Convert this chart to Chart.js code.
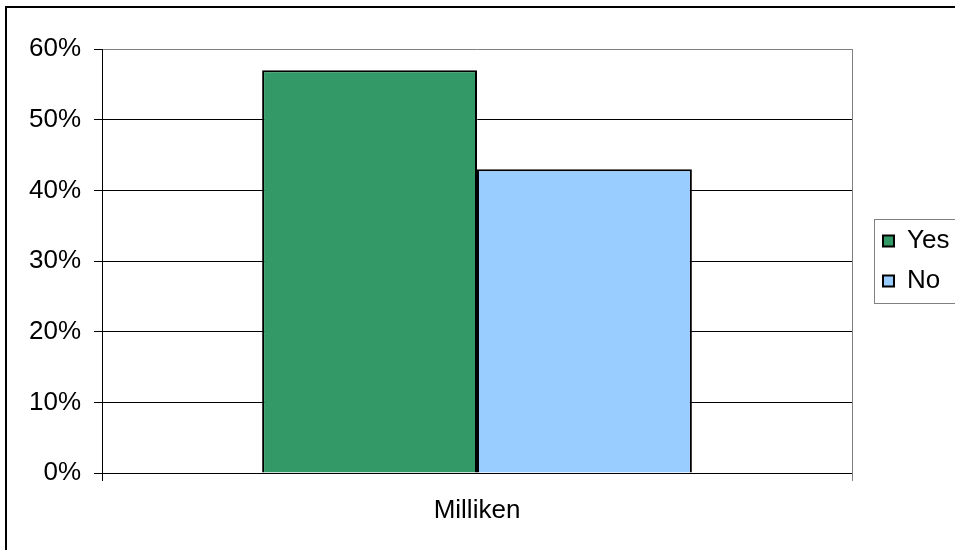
<!DOCTYPE html>
<html>
<head>
<meta charset="utf-8">
<script src="https://cdn.jsdelivr.net/npm/chart.js@4/dist/chart.umd.min.js"></script>
<style>
  html, body { margin: 0; padding: 0; background: #fff; overflow: hidden; }
  canvas { display: block; }
</style>
</head>
<body>
<canvas id="chart" width="955" height="550"></canvas>
<script>
// Survey answers by location, share of respondents (%)
const categories = ['Milliken'];
const seriesNames = ['Yes', 'No'];
const yesValues = [57];
const noValues = [43];
const yTickValues = [0, 10, 20, 30, 40, 50, 60];

const FONT = '"Liberation Sans", Arial, sans-serif';
const GRAY = '#808080';

// Outer chart frame plus the box around the legend
const framePlugin = {
  id: 'frame',
  afterDraw(chart) {
    const ctx = chart.ctx;
    ctx.save();
    ctx.strokeStyle = '#000';
    ctx.lineWidth = 2;
    ctx.beginPath();
    ctx.moveTo(6, chart.height + 10);
    ctx.lineTo(6, 7);
    ctx.lineTo(chart.width + 10, 7);
    ctx.stroke();

    const lg = chart.legend;
    if (lg && lg.legendHitBoxes && lg.legendHitBoxes.length) {
      const mid = (lg.top + lg.bottom) / 2;
      const left = Math.round(lg.left + 5) + 0.5;
      ctx.strokeStyle = GRAY;
      ctx.lineWidth = 1;
      ctx.strokeRect(left, Math.round(mid - 42) + 0.5, chart.width + 20 - left, 84);
    }
    ctx.restore();
  }
};

new Chart(document.getElementById('chart'), {
  type: 'bar',
  data: {
    labels: categories,
    datasets: [
      {
        label: seriesNames[0],
        data: yesValues,
        backgroundColor: '#339966',
        borderColor: '#000',
        borderWidth: 2
      },
      {
        label: seriesNames[1],
        data: noValues,
        backgroundColor: '#99CCFF',
        borderColor: '#000',
        borderWidth: 2
      }
    ]
  },
  options: {
    responsive: false,
    animation: false,
    events: [],
    datasets: {
      bar: { categoryPercentage: 0.573, barPercentage: 1 }
    },
    layout: { padding: { top: 49, left: 0, right: 0, bottom: 0 } },
    plugins: {
      title: { display: false },
      tooltip: { enabled: false },
      legend: {
        display: true,
        position: 'right',
        fullSize: false,
        align: 'center',
        maxWidth: 86,
        labels: {
          color: '#000',
          font: { family: FONT, size: 26 },
          boxWidth: 11,
          boxHeight: 11,
          padding: 14
        }
      }
    },
    scales: {
      x: {
        position: 'bottom',
        offset: true,
        grid: {
          display: true,
          drawOnChartArea: false,
          drawTicks: true,
          tickLength: 8,
          color: (c) => (c.index === 0 ? '#000' : GRAY)
        },
        border: { display: true, color: '#000', width: 1 },
        ticks: {
          color: '#000',
          font: { family: FONT, size: 26 },
          padding: 14,
          maxRotation: 0
        },
        afterFit(scale) { scale.height = 77; }
      },
      y: {
        position: 'left',
        min: 0,
        max: 60,
        grid: {
          color: (c) => (c.tick && c.tick.value === 60 ? GRAY : '#000'),
          tickColor: '#000',
          tickLength: 8,
          lineWidth: 1
        },
        border: { display: true, color: '#000', width: 1 },
        ticks: {
          stepSize: 10,
          color: '#000',
          font: { family: FONT, size: 26 },
          padding: 13,
          callback: (v) => (yTickValues.includes(v) ? v + '%' : '')
        },
        afterFit(scale) { scale.width = 102; }
      },
      frameRight: {
        type: 'linear',
        position: 'right',
        display: true,
        grid: { display: false, drawTicks: false },
        border: { display: true, color: GRAY, width: 1 },
        ticks: { display: false },
        afterFit(scale) { scale.width = 17; }
      }
    }
  },
  plugins: [framePlugin]
});
</script>
</body>
</html>
